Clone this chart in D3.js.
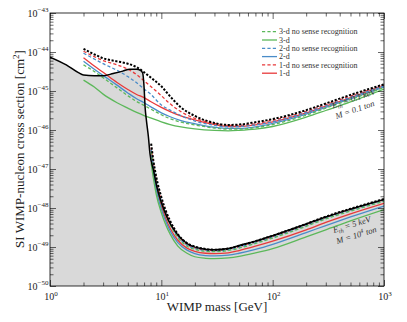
<!DOCTYPE html>
<html><head><meta charset="utf-8">
<script src="https://cdn.jsdelivr.net/npm/d3@7"></script>
<style>body{margin:0;background:#fff}svg{display:block}text{font-family:'Liberation Serif',serif}</style>
</head><body><svg id="c" width="407" height="322"></svg>
<script>
// ---- data (cross sections stored as log10 of sigma in cm^2) ----
const massFloor = [1, 1.4, 1.8, 2, 2.5, 3, 3.7, 4.5, 5.2, 6, 6.5, 6.8, 7.0, 7.15, 7.35, 7.65, 7.9, 8.5, 9.1, 10, 11.5, 13.7, 17, 22, 30, 40, 50, 70, 100, 200, 300, 500, 1000];
const floorExp  = [-44.13, -44.33, -44.53, -44.59, -44.61, -44.61, -44.55, -44.49, -44.44, -44.44, -44.47, -44.54, -44.91, -45.42, -45.76, -46.17, -46.60, -47.03, -47.45, -47.86, -48.30, -48.65, -48.91, -49.03, -49.07, -49.04, -48.96, -48.85, -48.71, -48.41, -48.23, -48.03, -47.78];

const massUpper = [2, 2.5, 3, 4, 5, 6, 7, 8, 10, 12, 15, 20, 30, 40, 50, 70, 100, 200, 300, 500, 1000];
const upperNoDir      = [-43.92, -44.06, -44.16, -44.24, -44.30, -44.39, -44.52, -44.65, -44.88, -45.14, -45.42, -45.64, -45.82, -45.87, -45.86, -45.80, -45.72, -45.49, -45.32, -45.10, -44.83];
const upper1dNoSense  = [-43.98, -44.12, -44.22, -44.33, -44.44, -44.58, -44.74, -44.88, -45.12, -45.33, -45.53, -45.70, -45.83, -45.88, -45.88, -45.84, -45.75, -45.52, -45.35, -45.13, -44.85];
const upper2dNoSense  = [-44.03, -44.18, -44.30, -44.47, -44.63, -44.79, -44.95, -45.08, -45.36, -45.49, -45.63, -45.77, -45.88, -45.92, -45.91, -45.87, -45.79, -45.55, -45.38, -45.16, -44.87];
const upper3dNoSense  = [-44.33, -44.50, -44.66, -44.92, -45.12, -45.27, -45.37, -45.46, -45.61, -45.71, -45.80, -45.87, -45.95, -45.98, -45.98, -45.94, -45.86, -45.62, -45.44, -45.22, -44.91];
const upper1d         = [-44.15, -44.36, -44.52, -44.78, -44.96, -45.09, -45.17, -45.27, -45.42, -45.53, -45.64, -45.74, -45.86, -45.91, -45.91, -45.87, -45.79, -45.56, -45.39, -45.17, -44.87];
const upper2d         = [-44.24, -44.44, -44.60, -44.85, -45.05, -45.20, -45.30, -45.40, -45.56, -45.66, -45.76, -45.84, -45.93, -45.96, -45.96, -45.92, -45.83, -45.59, -45.42, -45.20, -44.90];
const upper3d         = [-44.72, -44.90, -45.08, -45.30, -45.44, -45.55, -45.63, -45.69, -45.79, -45.86, -45.92, -45.97, -46.01, -46.02, -46.01, -45.98, -45.91, -45.67, -45.50, -45.28, -44.95];

const massLower = [8.1, 8.5, 9, 10, 11, 12, 14, 17, 20, 25, 30, 40, 50, 70, 100, 200, 300, 500, 1000];
const lowerNoDir      = [-46.35, -46.80, -47.20, -47.72, -48.08, -48.33, -48.66, -48.90, -48.99, -49.05, -49.07, -49.04, -48.97, -48.85, -48.71, -48.41, -48.22, -48.02, -47.77];
const lower1dNoSense  = [-46.45, -46.88, -47.27, -47.78, -48.12, -48.37, -48.70, -48.93, -49.02, -49.08, -49.09, -49.06, -48.99, -48.87, -48.73, -48.43, -48.24, -48.04, -47.79];
const lower2dNoSense  = [-46.50, -46.93, -47.32, -47.82, -48.15, -48.40, -48.72, -48.95, -49.04, -49.09, -49.10, -49.07, -49.00, -48.89, -48.75, -48.45, -48.26, -48.06, -47.81];
const lower3dNoSense  = [-46.55, -46.98, -47.37, -47.87, -48.19, -48.43, -48.75, -48.98, -49.06, -49.11, -49.12, -49.09, -49.03, -48.91, -48.77, -48.47, -48.28, -48.08, -47.83];
const lower1d         = [-46.60, -47.05, -47.45, -47.95, -48.28, -48.52, -48.82, -49.03, -49.11, -49.16, -49.17, -49.15, -49.09, -48.98, -48.85, -48.56, -48.37, -48.15, -47.88];
const lower2d         = [-46.68, -47.12, -47.53, -48.03, -48.35, -48.59, -48.88, -49.08, -49.17, -49.22, -49.23, -49.21, -49.16, -49.06, -48.93, -48.63, -48.45, -48.23, -47.95];
const lower3d         = [-46.85, -47.25, -47.65, -48.12, -48.44, -48.67, -48.97, -49.16, -49.25, -49.29, -49.30, -49.28, -49.24, -49.15, -49.04, -48.74, -48.56, -48.33, -48.04];

const legendLabels = ["3-d no sense recognition", "3-d", "2-d no sense recognition", "2-d", "1-d no sense recognition", "1-d"];
const xDecades = [0, 1, 2, 3];
const yDecades = [-50, -49, -48, -47, -46, -45, -44, -43];
const minorFactors = [2, 3, 4, 5, 6, 7, 8, 9];

// ---- styles ----
const RED = "#e8393a", BLUE = "#4a8cc8", GREEN = "#5cb85a";
const series = [
  {up: upper1d, lo: lower1d, color: RED, dash: null},
  {up: upper1dNoSense, lo: lower1dNoSense, color: RED, dash: "3.2,2.2"},
  {up: upper2d, lo: lower2d, color: BLUE, dash: null},
  {up: upper2dNoSense, lo: lower2dNoSense, color: BLUE, dash: "3.2,2.2"},
  {up: upper3d, lo: lower3d, color: GREEN, dash: null},
  {up: upper3dNoSense, lo: lower3dNoSense, color: GREEN, dash: "3.2,2.2"}
];
const legendStyles = [
  {color: GREEN, dash: "3.2,2.2"}, {color: GREEN, dash: null},
  {color: BLUE, dash: "3.2,2.2"}, {color: BLUE, dash: null},
  {color: RED, dash: "3.2,2.2"}, {color: RED, dash: null}
];

const L = 50, R = 384, T = 13, B = 286;
const x = d3.scaleLog().domain([1, 1000]).range([L, R]);
const y = d3.scaleLog().domain([1e-50, 1e-43]).range([B, T]);
const svg = d3.select("#c");

svg.append("defs").append("clipPath").attr("id", "clip")
  .append("rect").attr("x", L).attr("y", T).attr("width", R - L).attr("height", B - T);
const g = svg.append("g").attr("clip-path", "url(#clip)");

const pts = (ms, es) => ms.map((m, i) => ({m: m, s: Math.pow(10, es[i])}));
const line = d3.line().x(d => x(d.m)).y(d => y(d.s)).curve(d3.curveMonotoneX);
const area = d3.area().x(d => x(d.m)).y0(() => y(1e-50)).y1(d => y(d.s)).curve(d3.curveMonotoneX);

const floorPts = pts(massFloor, floorExp);
g.append("path").attr("d", area(floorPts)).attr("fill", "#d9d9d9");

series.forEach(s => {
  [pts(massUpper, s.up), pts(massLower, s.lo)].forEach(p => {
    g.append("path").attr("d", line(p)).attr("fill", "none")
      .attr("stroke", s.color).attr("stroke-width", 1.3)
      .attr("stroke-dasharray", s.dash);
  });
});

g.append("path").attr("d", line(floorPts)).attr("fill", "none")
  .attr("stroke", "#000").attr("stroke-width", 1.5);

[pts(massUpper, upperNoDir), pts(massLower, lowerNoDir)].forEach(p => {
  g.append("path").attr("d", line(p)).attr("fill", "none")
    .attr("stroke", "#000").attr("stroke-width", 2).attr("stroke-dasharray", "2.2,1.6");
});

// ---- axes ----
const xMinor = [], yMinor = [];
xDecades.slice(0, -1).forEach(e => minorFactors.forEach(k => xMinor.push(k * Math.pow(10, e))));
yDecades.slice(0, -1).forEach(e => minorFactors.forEach(k => yMinor.push(k * Math.pow(10, e))));
const xMajor = xDecades.map(e => Math.pow(10, e));
const yMajor = yDecades.map(e => Math.pow(10, e));

function addAxis(axisFn, scale, vals, size, tr) {
  const a = svg.append("g").attr("transform", tr)
    .call(axisFn(scale).tickValues(vals).tickSize(size).tickSizeOuter(0).tickFormat(""));
  a.select(".domain").remove();
  a.selectAll("line").attr("stroke", "#000").attr("stroke-width", 0.6);
}
addAxis(d3.axisBottom, x, xMajor, -6, `translate(0,${B})`);
addAxis(d3.axisBottom, x, xMinor, -3.5, `translate(0,${B})`);
addAxis(d3.axisTop, x, xMajor, -6, `translate(0,${T})`);
addAxis(d3.axisTop, x, xMinor, -3.5, `translate(0,${T})`);
addAxis(d3.axisLeft, y, yMajor, -6, `translate(${L},0)`);
addAxis(d3.axisLeft, y, yMinor, -3.5, `translate(${L},0)`);
addAxis(d3.axisRight, y, yMajor, -6, `translate(${R},0)`);
addAxis(d3.axisRight, y, yMinor, -3.5, `translate(${R},0)`);

svg.append("rect").attr("x", L).attr("y", T).attr("width", R - L).attr("height", B - T)
  .attr("fill", "none").attr("stroke", "#000").attr("stroke-width", 0.8);

// tick labels
xDecades.forEach(e => {
  const t = svg.append("text").attr("x", x(Math.pow(10, e)) + 1).attr("y", 300)
    .attr("text-anchor", "middle").attr("font-size", 10).attr("fill", "#222").text("10");
  t.append("tspan").attr("dy", -4.5).attr("font-size", 7).text(String(e));
});
yDecades.forEach(e => {
  const t = svg.append("text").attr("x", L - 1.5).attr("y", y(Math.pow(10, e)) + 3.6)
    .attr("text-anchor", "end").attr("font-size", 10).attr("fill", "#222").text("10");
  t.append("tspan").attr("dy", -4.5).attr("font-size", 7).text("\u2212" + Math.abs(e));
});

// axis titles
svg.append("text").attr("x", 217).attr("y", 311).attr("text-anchor", "middle")
  .attr("font-size", 13).attr("fill", "#222").text("WIMP mass [GeV]");
const yl = svg.append("text").attr("transform", "translate(23.5,149) rotate(-90)")
  .attr("text-anchor", "middle").attr("font-size", 13).attr("fill", "#222")
  .text("SI WIMP-nucleon cross section [cm");
yl.append("tspan").attr("dy", -5).attr("font-size", 9).text("2");
yl.append("tspan").attr("dy", 5).text("]");

// legend
legendLabels.forEach((lab, i) => {
  const yy = 31.7 + i * 8.3;
  const st = legendStyles[i];
  svg.append("line").attr("x1", 262).attr("x2", 277).attr("y1", yy).attr("y2", yy)
    .attr("stroke", st.color).attr("stroke-width", 1.3).attr("stroke-dasharray", st.dash);
  svg.append("text").attr("x", 279).attr("y", yy + 2.6).attr("font-size", 8)
    .attr("fill", "#333").text(lab);
});

// annotations
function annot(x0, y0, ang, ebody, mbody, dy) {
  const gA = svg.append("g").attr("transform", `translate(${x0},${y0}) rotate(${ang})`);
  const t1 = gA.append("text").attr("x", 0).attr("y", 0).attr("font-size", 8.5)
    .attr("font-style", "italic").attr("fill", "#333");
  t1.append("tspan").text("E");
  t1.append("tspan").attr("dy", 2).attr("font-size", 6).text("th");
  t1.append("tspan").attr("dy", -2).text(ebody);
  const t2 = gA.append("text").attr("x", 0).attr("y", dy).attr("font-size", 8.5)
    .attr("font-style", "italic").attr("fill", "#333");
  t2.append("tspan").text(mbody[0]);
  if (mbody[1]) {
    t2.append("tspan").attr("dy", -3.5).attr("font-size", 6).text(mbody[1]);
    t2.append("tspan").attr("dy", 3.5).text(mbody[2]);
  }
}
annot(333, 108.5, -19, " = 0.1 keV", ["M = 0.1 ton"], 11);
annot(334, 233, -17, " = 5 keV", ["M = 10", "4", " ton"], 11.5);
</script></body></html>
